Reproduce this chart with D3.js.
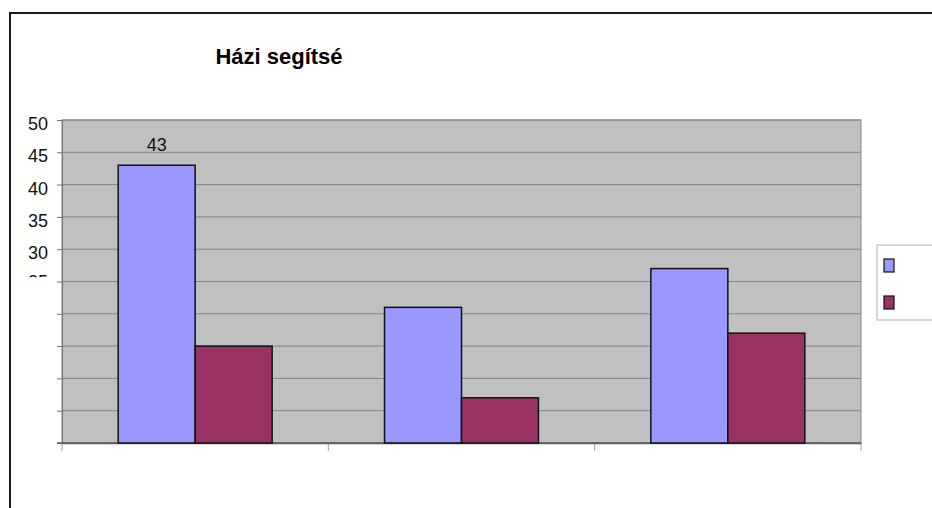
<!DOCTYPE html>
<html>
<head>
<meta charset="utf-8">
<script src="https://cdn.jsdelivr.net/npm/d3@7"></script>
<style>
  body { margin: 0; background: #fff; }
  svg { display: block; font-family: "Liberation Sans", Arial, sans-serif; }
</style>
</head>
<body>
<div id="chart"></div>
<script>
// data
const categories = ['A', 'B', 'C'];
const seriesNames = ['s1', 's2'];
const series1 = [43, 21, 27];
const series2 = [15, 7, 17];
const yTicks = [0, 5, 10, 15, 20, 25, 30, 35, 40, 45, 50];
const yLabels = [30, 35, 40, 45, 50];
const colors = ['#9999ff', '#993366'];

const W = 932, H = 508;
const plot = { left: 62, right: 861, top: 120, bottom: 443 };

const svg = d3.select('#chart')
    .append('svg')
    .attr('width', W)
    .attr('height', H);

// outer frame (runs off the right and bottom edge)
svg.append('path')
    .attr('d', `M10,${H + 5} L10,13 L${W + 5},13`)
    .attr('fill', 'none')
    .attr('stroke', '#1a1a1a')
    .attr('stroke-width', 2);

// title
svg.append('text')
    .attr('x', 279)
    .attr('y', 64)
    .attr('text-anchor', 'middle')
    .attr('font-size', '22px')
    .attr('font-weight', 'bold')
    .attr('fill', '#000')
    .text('Házi segítsé');

const x0 = d3.scaleBand()
    .domain(categories)
    .range([plot.left, plot.right]);

const x1 = d3.scaleBand()
    .domain(seriesNames)
    .range([0, x0.bandwidth()])
    .paddingOuter(0.73)
    .paddingInner(0);

const y = d3.scaleLinear()
    .domain([0, 50])
    .range([plot.bottom, plot.top]);

// plot background
svg.append('rect')
    .attr('x', plot.left)
    .attr('y', plot.top)
    .attr('width', plot.right - plot.left)
    .attr('height', plot.bottom - plot.top)
    .attr('fill', '#c0c0c0')
    .attr('stroke', '#8a8a8a')
    .attr('stroke-width', 1);

// gridlines
svg.append('g')
    .selectAll('line')
    .data(yTicks)
    .enter()
    .append('line')
    .attr('x1', plot.left)
    .attr('x2', plot.right)
    .attr('y1', d => y(d))
    .attr('y2', d => y(d))
    .attr('stroke', '#858585')
    .attr('stroke-width', 1);

// y axis
const yAxis = svg.append('g')
    .attr('transform', `translate(${plot.left},0)`)
    .call(d3.axisLeft(y).tickValues(yTicks).tickSize(5).tickFormat(''));
yAxis.select('.domain').attr('stroke', '#707070');
yAxis.selectAll('.tick line').attr('stroke', '#707070');

svg.append('g')
    .selectAll('text')
    .data(yLabels)
    .enter()
    .append('text')
    .attr('x', 48)
    .attr('y', d => y(d) + 10)
    .attr('text-anchor', 'end')
    .attr('font-size', '18px')
    .attr('fill', '#111')
    .text(d => d);

// the "25" label only shows a thin sliver in the picture
svg.append('clipPath')
    .attr('id', 'cut25')
    .append('rect')
    .attr('x', 20).attr('y', 275)
    .attr('width', 40).attr('height', 2.2);
svg.append('text')
    .attr('x', 48)
    .attr('y', y(25) + 6)
    .attr('text-anchor', 'end')
    .attr('font-size', '18px')
    .attr('fill', '#111')
    .attr('clip-path', 'url(#cut25)')
    .text(25);

// category separators below the axis
const xEdges = categories.map(c => x0(c)).concat([plot.right]);
svg.append('g')
    .selectAll('line')
    .data(xEdges)
    .enter()
    .append('line')
    .attr('x1', d => d)
    .attr('x2', d => d)
    .attr('y1', plot.bottom)
    .attr('y2', plot.bottom + 8)
    .attr('stroke', '#a0a0a0')
    .attr('stroke-width', 1);

// x axis
const xAxis = svg.append('g')
    .attr('transform', `translate(0,${plot.bottom})`)
    .call(d3.axisBottom(x0).tickSize(0).tickFormat(''));
xAxis.select('.domain').attr('stroke', '#606060').attr('stroke-width', 1.5);

svg.append('line')
    .attr('x1', plot.left - 5)
    .attr('x2', plot.right)
    .attr('y1', plot.bottom)
    .attr('y2', plot.bottom)
    .attr('stroke', '#606060')
    .attr('stroke-width', 1.5);

// bars
const rows = categories.map((c, i) => ({ cat: c, vals: [series1[i], series2[i]] }));

const groups = svg.append('g')
    .selectAll('g')
    .data(rows)
    .enter()
    .append('g')
    .attr('transform', d => `translate(${x0(d.cat)},0)`);

groups.selectAll('rect')
    .data(d => d.vals.map((v, j) => ({ key: seriesNames[j], v: v, j: j })))
    .enter()
    .append('rect')
    .attr('x', d => x1(d.key))
    .attr('y', d => y(d.v))
    .attr('width', x1.bandwidth())
    .attr('height', d => y(0) - y(d.v))
    .attr('fill', d => colors[d.j])
    .attr('stroke', '#111')
    .attr('stroke-width', 1.5);

// value label on the first bar only
svg.append('text')
    .attr('x', x0(categories[0]) + x1(seriesNames[0]) + x1.bandwidth() / 2)
    .attr('y', y(series1[0]) - 14)
    .attr('text-anchor', 'middle')
    .attr('font-size', '18px')
    .attr('fill', '#111')
    .text(series1[0]);

// legend (cut off at the right edge)
const legend = svg.append('g').attr('transform', 'translate(877,245)');
legend.append('rect')
    .attr('x', 0).attr('y', 0)
    .attr('width', 80).attr('height', 75)
    .attr('fill', '#fff')
    .attr('stroke', '#b0b0b0')
    .attr('stroke-width', 1);
legend.selectAll('rect.sw')
    .data(seriesNames)
    .enter()
    .append('rect')
    .attr('class', 'sw')
    .attr('x', 7)
    .attr('y', (d, i) => 14 + i * 37)
    .attr('width', 10)
    .attr('height', 13)
    .attr('fill', (d, i) => colors[i])
    .attr('stroke', '#111')
    .attr('stroke-width', 1.2);
</script>
</body>
</html>
